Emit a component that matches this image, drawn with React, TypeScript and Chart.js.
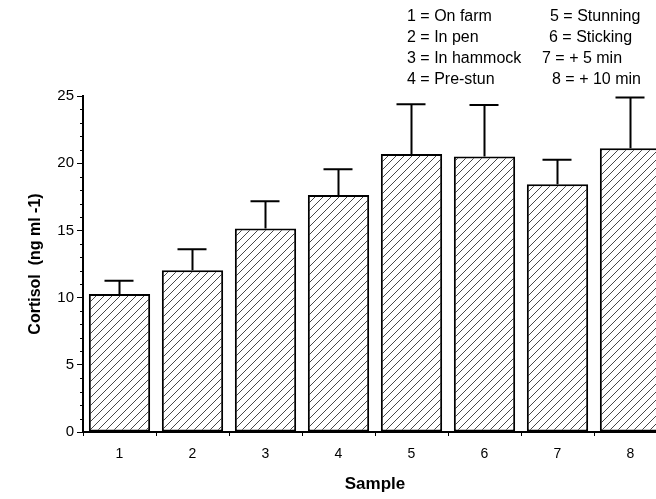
import React, { useEffect, useRef } from "react";
import { Chart, registerables } from "chart.js";
Chart.register(...registerables);

const categories = ["1", "2", "3", "4", "5", "6", "7", "8"];
const means = [10.26, 12.04, 15.14, 17.64, 20.69, 20.49, 18.44, 21.11];
const errTops = [11.25, 13.6, 17.17, 19.55, 24.39, 24.33, 20.25, 24.88];
const yTicks = [0, 5, 10, 15, 20, 25];
const legendLeft = ["1 = On farm", "2 = In pen", "3 = In hammock", "4 = Pre-stun"];
const legendRight = ["5 = Stunning", "6 = Sticking", "7 = + 5 min", "8 = + 10 min"];

function makePattern(): CanvasPattern | string {
  const s = 8;
  const c = document.createElement("canvas");
  c.width = s; c.height = s;
  const g = c.getContext("2d");
  if (!g) return "#fff";
  g.fillStyle = "#fff"; g.fillRect(0, 0, s, s);
  g.strokeStyle = "#333"; g.lineWidth = 0.9;
  g.beginPath();
  g.moveTo(-1, s + 1); g.lineTo(s + 1, -1);
  g.moveTo(-1, 1); g.lineTo(1, -1);
  g.moveTo(s - 1, s + 1); g.lineTo(s + 1, s - 1);
  g.stroke();
  const p = g.createPattern(c, "repeat");
  return p || "#fff";
}

const overlay = {
  id: "overlay",
  afterDatasetsDraw(chart: any) {
    const ctx = chart.ctx;
    const x = chart.scales.x, y = chart.scales.y;
    ctx.save();
    ctx.strokeStyle = "#000"; ctx.lineWidth = 2;
    means.forEach((m, i) => {
      const cx = x.getPixelForValue(i);
      const y0 = y.getPixelForValue(m), y1 = y.getPixelForValue(errTops[i]);
      ctx.beginPath();
      ctx.moveTo(cx, y0); ctx.lineTo(cx, y1);
      ctx.moveTo(cx - 15, y1); ctx.lineTo(cx + 14, y1);
      ctx.stroke();
    });
    ctx.lineWidth = 1;
    const left = chart.chartArea.left;
    for (let v = 1; v < 25; v++) {
      if (v % 5 === 0) continue;
      const py = Math.round(y.getPixelForValue(v)) + 0.5;
      ctx.beginPath(); ctx.moveTo(left - 3, py); ctx.lineTo(left, py); ctx.stroke();
    }
    ctx.fillStyle = "#000";
    ctx.font = "16px 'Liberation Sans', Arial, sans-serif";
    ctx.textBaseline = "middle";
    const ys = [17, 38, 59, 80];
    legendLeft.forEach((t, i) => ctx.fillText(t, 407, ys[i]));
    const xs = [550, 549, 542, 552];
    legendRight.forEach((t, i) => ctx.fillText(t, xs[i], ys[i]));
    ctx.restore();
  },
};

export default function App() {
  const ref = useRef<HTMLCanvasElement>(null);
  useEffect(() => {
    if (!ref.current) return;
    const chart = new Chart(ref.current, {
      type: "bar",
      data: {
        labels: categories,
        datasets: [{
          data: means,
          backgroundColor: makePattern() as any,
          borderColor: "#000",
          borderWidth: 2,
          borderSkipped: false,
          barPercentage: 0.84,
          categoryPercentage: 1,
        }],
      },
      options: {
        animation: false,
        responsive: false,
        layout: { padding: { top: 96, right: 3, left: 22, bottom: 0 } },
        plugins: { legend: { display: false }, tooltip: { enabled: false } },
        scales: {
          x: {
            grid: { offset: true, drawOnChartArea: false, drawTicks: true, tickLength: 4, color: "#000" },
            border: { color: "#000", width: 2 },
            ticks: { color: "#000", font: { size: 14, family: "'Liberation Sans', Arial" }, padding: 10 },
            title: { display: true, text: "Sample", color: "#000", font: { size: 17, weight: "bold", family: "'Liberation Sans', Arial" }, padding: { top: 4 } },
            afterFit: (s: any) => { s.height = 67; },
          },
          y: {
            min: 0, max: 25,
            afterBuildTicks: (s: any) => { s.ticks = yTicks.map((v) => ({ value: v })); },
            grid: { drawOnChartArea: false, drawTicks: true, tickLength: 6, color: "#000" },
            border: { color: "#000", width: 2 },
            ticks: { color: "#000", font: { size: 15, family: "'Liberation Sans', Arial" }, padding: 3 },
            title: { display: true, text: "Cortisol  (ng ml -1)", color: "#000", font: { size: 16, weight: "bold", family: "'Liberation Sans', Arial" } },
            afterFit: (s: any) => { s.width = 61; },
          },
        },
      },
      plugins: [overlay],
    });
    return () => chart.destroy();
  }, []);
  return (
    <div style={{ position: "absolute", left: 0, top: 0, width: 656, height: 499, overflow: "hidden", background: "#fff" }}>
      <canvas ref={ref} width={670} height={499} style={{ width: 670, height: 499 }} />
    </div>
  );
}
